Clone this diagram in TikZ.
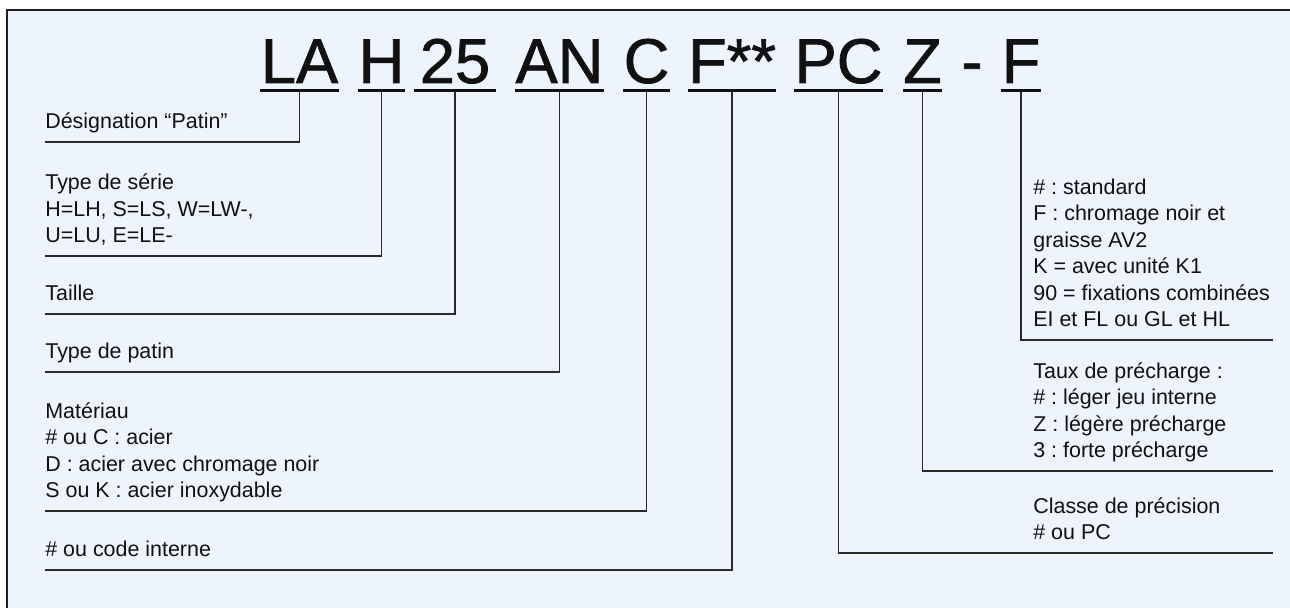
\documentclass[tikz,border=0pt]{standalone}
\usepackage{fontspec}
\setmainfont{Liberation Sans}
\newfontfamily\codefont{Liberation Sans}[FakeBold=1.2]
\frenchspacing
\usepackage{xcolor}
\definecolor{textcolor}{HTML}{111111}
\definecolor{linecolor}{HTML}{2A2A2A}
\definecolor{framecolor}{HTML}{1E1E1E}
\definecolor{panelfill}{HTML}{EEF4FB}
\usepackage{tikz}
\usetikzlibrary{positioning}
\tikzset{
    panel/.style={
        fill=panelfill,
    },
    frame/.style={
        draw=framecolor,
        line width=0.045cm,
    },
    codepart/.style={
        font=\codefont\fontsize{36}{36}\selectfont,
        text=textcolor,
        inner xsep=0pt,
        inner ysep=0.15cm,
        text depth=0pt,
        anchor=base,
    },
    uline/.style={
        draw=textcolor,
        line width=0.055cm,
    },
    lead/.style={
        draw=linecolor,
        line width=0.026cm,
    },
    legend/.style={
        font=\fontsize{12.2}{15.1}\selectfont,
        text=textcolor,
        align=left,
        inner sep=0pt,
        inner ysep=0.26cm,
        text depth=0pt,
        anchor=south west,
    },
}

\begin{document}
\begin{tikzpicture}[x=0.02cm, y=-0.02cm]
    \useasboundingbox (0,0) rectangle (1290,608);

    % Panel
    \fill[panel] (7,10) rectangle (1290,608);
    \draw[frame] (7,608) -- (7,10) -- (1290,10);

    % Reference code
    \node[codepart] (la) at (299.5,83) {LA};
    \node[codepart] (serie) at (381.5,83) {H};
    \node[codepart, minimum width=1.62cm] (size) at (455,83) {25};
    \node[codepart] (type) at (559.5,83) {AN};
    \node[codepart] (mat) at (646.5,83) {C};
    \node[codepart] (code) at (732,83) {F**};
    \node[codepart] (prec) at (838.5,83) {PC};
    \node[codepart] (pre) at (922.5,83) {Z};
    \node[codepart] (dash) at (972,83) {-};
    \node[codepart] (opt) at (1021,83) {F};

    % Underlines
    \draw[uline] (la.south west) -- (la.south east);
    \draw[uline] (serie.south west) -- (serie.south east);
    \draw[uline] (size.south west) -- (size.south east);
    \draw[uline] (type.south west) -- (type.south east);
    \draw[uline] (mat.south west) -- (mat.south east);
    \draw[uline] (code.south west) -- (code.south east);
    \draw[uline] (prec.south west) -- (prec.south east);
    \draw[uline] (pre.south west) -- (pre.south east);
    \draw[uline] (opt.south west) -- (opt.south east);

    % Left legends
    \node[legend] (desig) at (45,142) {Désignation “Patin”};
    \node[legend] (seriedesc) at (45,256) {Type de série\\H=LH, S=LS, W=LW-,\\U=LU, E=LE-};
    \node[legend] (sizedesc) at (45,314) {Taille};
    \node[legend] (typedesc) at (45,372) {Type de patin};
    \node[legend] (matdesc) at (45,511) {Matériau\\\# ou C : acier\\D : acier avec chromage noir\\S ou K : acier inoxydable};
    \node[legend] (codedesc) at (45,570) {\# ou code interne};

    % Right legends
    \node[legend] (optdesc) at (1033,340) {\# : standard\\F : chromage noir et\\graisse AV2\\K = avec unité K1\\90 = fixations combinées\\EI et FL ou GL et HL};
    \node[legend] (predesc) at (1033,471) {Taux de précharge :\\\# : léger jeu interne\\Z : légère précharge\\3 : forte précharge};
    \node[legend] (precdesc) at (1033,553) {Classe de précision\\\# ou PC};
    \coordinate (optend) at (1273,340);
    \coordinate (preend) at (1273,471);
    \coordinate (precend) at (1273,553);

    % Leaders
    \draw[lead] (la.south) |- (desig.south west);
    \draw[lead] (serie.south) |- (seriedesc.south west);
    \draw[lead] (size.south) |- (sizedesc.south west);
    \draw[lead] (type.south) |- (typedesc.south west);
    \draw[lead] (mat.south) |- (matdesc.south west);
    \draw[lead] (code.south) |- (codedesc.south west);
    \draw[lead] (opt.south) |- (optend);
    \draw[lead] (pre.south) |- (preend);
    \draw[lead] (prec.south) |- (precend);

\end{tikzpicture}
\end{document}
